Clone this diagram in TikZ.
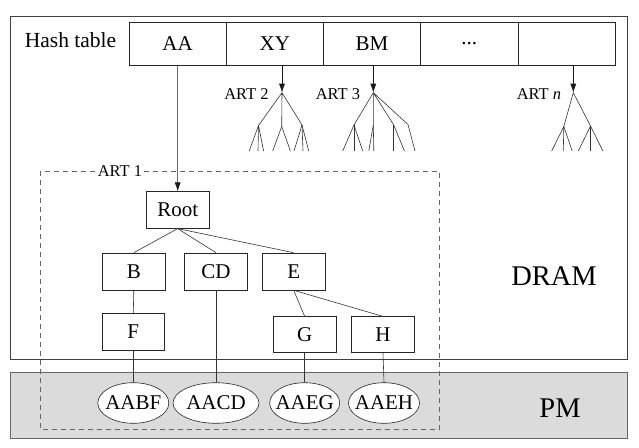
\documentclass[tikz,border=0pt]{standalone}
\usepackage{fontspec}
\setmainfont{Liberation Serif}
\usetikzlibrary{arrows.meta,shapes.geometric}
\begin{document}
\begin{tikzpicture}[x=1pt,y=-1pt,line width=0.6pt,
  box/.style={draw=black!85, minimum width=62.5pt, minimum height=37pt, inner sep=0pt, font=\fontsize{21}{25}\selectfont},
  cell/.style={draw=black!85, minimum width=97.2pt, minimum height=43.4pt, inner sep=0pt, font=\fontsize{21}{25}\selectfont},
  leafell/.style={ellipse, draw=black!85, fill=white, minimum height=40.6pt, inner sep=0pt, font=\fontsize{21}{25}\selectfont},
  arr/.style={draw=black!90, -{Latex[length=9pt,width=6pt]}},
  conn/.style={draw=black!80},
  artlbl/.style={font=\fontsize{16.5}{20}\selectfont, inner sep=1pt},
  biglbl/.style={font=\fontsize{28.5}{34}\selectfont},
]
\useasboundingbox (0,0) rectangle (639,447);
% memory regions
\draw[draw=black!75] (10,16) rectangle (627,359.3);
\draw[draw=black!60, fill=black!14] (10,372.7) rectangle (627,438.3);
\draw[draw=black!60, dash pattern=on 5pt off 4pt] (40,171) rectangle (439.3,429.3);
\node[artlbl, fill=white] (art1) at (120,171) {ART 1};
\node[biglbl] (dram) at (554,276) {DRAM};
\node[biglbl] (pm) at (560,408) {PM};
% hash table
\node[font=\fontsize{21.5}{26}\selectfont] (ht) at (70.5,40) {Hash table};
\node[cell] (c1) at (177.6,44) {AA};
\node[cell] (c2) at (274.8,44) {XY};
\node[cell] (c3) at (372.0,44) {BM};
\node[cell] (c4) at (469.2,44) {...};
\node[cell] (c5) at (566.4,44) {};
% ART 2
\coordinate (a2) at (282,92.7);
\coordinate (a2l) at (258.5,125.5);
\coordinate (a2m) at (281.7,126.5);
\coordinate (a2r) at (302,125);
\node[artlbl] (l2) at (246.5,94) {ART 2};
\draw[arr] (a2 |- c2.south) -- (a2);
\draw[conn] (a2) -- (a2l) (a2) -- (a2m) (a2) -- (a2r);
\foreach \dx in {-9.3,-0.5,5.1} \draw[conn] (a2l) -- ++(\dx,25.5);
\foreach \dx in {-9,8.7} \draw[conn] (a2m) -- ++(\dx,24.5);
\foreach \dx in {-8,1,6.7} \draw[conn] (a2r) -- ++(\dx,26);
% ART 3
\coordinate (a3) at (373.3,92.7);
\coordinate (a3l) at (354,125);
\coordinate (a3m) at (373.3,125);
\coordinate (a3r) at (393.5,124.5);
\coordinate (a3s) at (408,124.5);
\node[artlbl] (l3) at (338,94) {ART 3};
\draw[arr] (a3 |- c3.south) -- (a3);
\draw[conn] (a3) -- (a3l) (a3) -- (a3m) (a3) -- (a3r) (a3) -- (a3s);
\foreach \dx in {-11.3,0,8.7} \draw[conn] (a3l) -- ++(\dx,26);
\foreach \dx in {-4.5,0.5} \draw[conn] (a3m) -- ++(\dx,26);
\foreach \dx in {0,11} \draw[conn] (a3r) -- ++(\dx,26.5);
\draw[conn] (a3s) -- ++(7,26.5);
% ART n
\coordinate (an) at (573.3,92.7);
\coordinate (anl) at (563.8,126.5);
\coordinate (anr) at (590.5,126);
\node[artlbl] (ln) at (539,94) {ART \textit{n}};
\draw[arr] (an |- c5.south) -- (an);
\draw[conn] (an) -- (anl) (an) -- (anr);
\foreach \dx in {-12.1,-0.5,8.4} \draw[conn] (anl) -- ++(\dx,24.5);
\foreach \dx in {-12.2,0,12.4} \draw[conn] (anr) -- ++(\dx,25);
% ART 1 tree
\node[box, minimum width=63.3pt, minimum height=36.6pt] (root) at (177.7,210) {Root};
\node[box] (b) at (133.8,271.5) {B};
\node[box] (cd) at (216,271.5) {CD};
\node[box] (e) at (293.7,271.5) {E};
\node[box, minimum height=37.4pt] (f) at (133.3,332) {F};
\node[box, minimum height=36pt] (g) at (304.7,334.7) {G};
\node[box, minimum height=36pt] (h) at (383,334.7) {H};
\node[leafell, minimum width=71pt] (aabf) at (133.3,403) {\makebox[0pt]{AABF}};
\node[leafell, minimum width=86pt] (aacd) at (216,403) {\makebox[0pt]{AACD}};
\node[leafell, minimum width=70pt] (aaeg) at (304.7,403) {\makebox[0pt]{AAEG}};
\node[leafell, minimum width=71pt] (aaeh) at (384,403) {\makebox[0pt]{AAEH}};
\draw[arr] (c1.south) -- (root.north);
\draw[conn] (root.south) -- (b.north);
\draw[conn] (root.south) -- (cd.north);
\draw[conn] (root.south) -- (e.north);
\draw[conn] (b.south) -- (f.north);
\draw[conn] (e.south) -- (g.north);
\draw[conn] (e.south) -- (h.north);
\draw[conn] (f.south) -- (aabf.north);
\draw[conn] (cd.south) -- (aacd.north);
\draw[conn] (g.south) -- (aaeg.north);
\draw[conn] (h.south) -- (aaeh.north);
\end{tikzpicture}
\end{document}
